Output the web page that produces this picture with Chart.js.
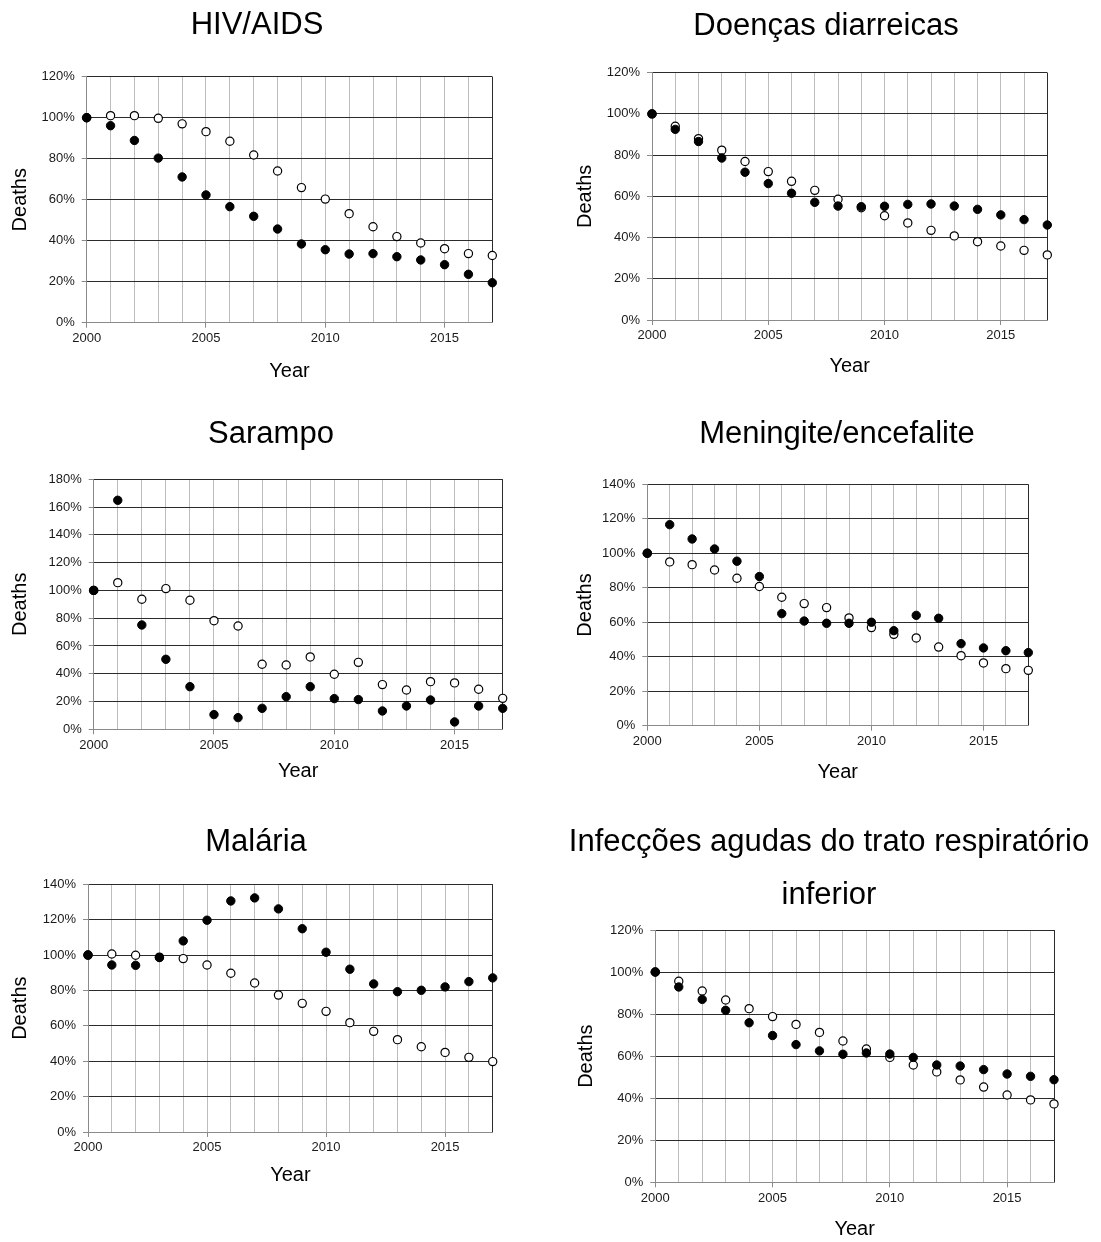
<!DOCTYPE html>
<html>
<head>
<meta charset="utf-8">
<script src="https://cdn.jsdelivr.net/npm/chart.js@4.4.1/dist/chart.umd.min.js"></script>
<style>
  html, body { margin: 0; padding: 0; background: #fff; }
  #wrap { position: relative; width: 1101px; height: 1242px; overflow: hidden; }
  #wrap canvas { position: absolute; }
</style>
</head>
<body>
<div id="wrap">
  <canvas id="hiv"></canvas>
  <canvas id="diar"></canvas>
  <canvas id="sar"></canvas>
  <canvas id="men"></canvas>
  <canvas id="mal"></canvas>
  <canvas id="resp"></canvas>
</div>
<script>
// ---- data ----
const years = [2000, 2001, 2002, 2003, 2004, 2005, 2006, 2007, 2008,
               2009, 2010, 2011, 2012, 2013, 2014, 2015, 2016, 2017];
const xLabelYears = [2000, 2005, 2010, 2015];
const yAxisStep = 20;

const titleHiv  = ['HIV/AIDS'];
const titleDiar = ['Doenças diarreicas'];
const titleSar  = ['Sarampo'];
const titleMen  = ['Meningite/encefalite'];
const titleMal  = ['Malária'];
const titleResp = ['Infecções agudas do trato respiratório', 'inferior'];

const xAxisTitle = 'Year';
const yAxisTitle = 'Deaths';

// y-axis upper limits (percent)
const yMaxHiv = 120, yMaxDiar = 120, yMaxSar = 180, yMaxMen = 140, yMaxMal = 140, yMaxResp = 120;

// filled markers
const hivSolid  = [100, 96.1, 88.9, 80.3, 71.1, 62.3, 56.6, 51.9, 45.7, 38.4, 35.6, 33.5, 33.7, 32.2, 30.6, 28.3, 23.6, 19.5];
const diarSolid = [100, 92.5, 86.6, 78.6, 71.7, 66.2, 61.5, 57.1, 55.3, 55.0, 55.2, 56.1, 56.3, 55.3, 53.7, 51.0, 48.7, 46.1];
const sarSolid  = [100, 164.9, 75.1, 50.4, 30.7, 10.6, 8.4, 15.1, 23.5, 30.7, 22.1, 21.4, 13.2, 16.8, 21.1, 5.3, 16.8, 15.1];
const menSolid  = [100, 116.6, 108.3, 102.5, 95.4, 86.5, 65.0, 60.7, 59.4, 59.4, 60.0, 55.1, 64.0, 62.3, 47.6, 45.1, 43.5, 42.4];
const malSolid  = [100, 94.4, 94.2, 98.6, 108.0, 119.7, 130.6, 132.3, 126.1, 114.9, 101.6, 92.0, 83.7, 79.3, 80.1, 82.0, 85.0, 87.1];
const respSolid = [100, 92.9, 87.0, 81.8, 75.9, 69.8, 65.5, 62.5, 60.9, 61.5, 61.0, 59.4, 55.8, 55.3, 53.6, 51.5, 50.4, 48.8];

// hollow markers
const hivHollow  = [100, 101.0, 101.0, 99.7, 97.0, 93.2, 88.5, 81.8, 74.0, 65.9, 60.3, 53.2, 46.8, 42.0, 38.9, 36.1, 33.7, 32.8];
const diarHollow = [100, 94.0, 88.0, 82.4, 76.9, 72.0, 67.3, 62.9, 58.6, 54.5, 50.6, 47.1, 43.5, 40.8, 38.0, 35.9, 33.8, 31.6];
const sarHollow  = [100, 105.6, 93.6, 101.3, 92.9, 78.2, 74.4, 46.8, 46.3, 52.1, 39.6, 48.2, 32.2, 28.3, 34.3, 33.4, 28.8, 22.3];
const menHollow  = [100, 95.0, 93.4, 90.3, 85.5, 80.7, 74.5, 70.8, 68.5, 62.5, 56.9, 53.0, 50.9, 45.6, 40.6, 36.4, 33.1, 32.1];
const malHollow  = [100, 100.6, 99.9, 98.8, 98.0, 94.4, 89.7, 84.2, 77.4, 72.7, 68.2, 61.8, 56.9, 52.2, 48.2, 45.0, 42.2, 39.8];
const respHollow = [100, 95.6, 91.0, 86.7, 82.6, 78.8, 75.1, 71.3, 67.2, 63.4, 59.4, 55.8, 52.5, 48.7, 45.3, 41.5, 39.2, 37.3];

// ---- styling / layout ----
const FONT = '"Liberation Sans", Arial, Helvetica, sans-serif';

// draws the panel heading centred above each plot
const panelTitlePlugin = {
  id: 'panelTitle',
  afterDraw(chart, args, opts) {
    const ctx = chart.ctx;
    ctx.save();
    ctx.font = opts.size + 'px ' + FONT;
    ctx.fillStyle = '#000';
    ctx.textAlign = 'center';
    ctx.textBaseline = 'middle';
    opts.lines.forEach((t, i) => ctx.fillText(t, opts.x, opts.y[i]));
    ctx.restore();
  }
};

const panels = [
  { id: 'hiv',  title: titleHiv,  solid: hivSolid,  hollow: hivHollow,  yMax: yMaxHiv,
    box: { x: 0,   y: 0,   w: 550, h: 400 }, plot: { l: 86.7,  r: 492.3,  t: 76.7,  b: 322.7 },
    titleX: 257, titleY: [25],  yTitleX: 20,  xTitleY: 371 },
  { id: 'diar', title: titleDiar, solid: diarSolid, hollow: diarHollow, yMax: yMaxDiar,
    box: { x: 550, y: 0,   w: 551, h: 400 }, plot: { l: 652,   r: 1047.3, t: 72.7,  b: 320 },
    titleX: 826, titleY: [26],  yTitleX: 585, xTitleY: 366 },
  { id: 'sar',  title: titleSar,  solid: sarSolid,  hollow: sarHollow,  yMax: yMaxSar,
    box: { x: 0,   y: 400, w: 550, h: 410 }, plot: { l: 93.7,  r: 502.7,  t: 479.3, b: 729.3 },
    titleX: 271, titleY: [434], yTitleX: 20,  xTitleY: 771 },
  { id: 'men',  title: titleMen,  solid: menSolid,  hollow: menHollow,  yMax: yMaxMen,
    box: { x: 550, y: 400, w: 551, h: 410 }, plot: { l: 647.3, r: 1028.3, t: 484.3, b: 725.7 },
    titleX: 837, titleY: [434], yTitleX: 585, xTitleY: 772 },
  { id: 'mal',  title: titleMal,  solid: malSolid,  hollow: malHollow,  yMax: yMaxMal,
    box: { x: 0,   y: 810, w: 550, h: 432 }, plot: { l: 88,    r: 492.7,  t: 884.3, b: 1132 },
    titleX: 256, titleY: [842], yTitleX: 20,  xTitleY: 1175 },
  { id: 'resp', title: titleResp, solid: respSolid, hollow: respHollow, yMax: yMaxResp,
    box: { x: 550, y: 810, w: 551, h: 432 }, plot: { l: 655.3, r: 1054,   t: 930,   b: 1182.3 },
    titleX: 829, titleY: [842, 895], yTitleX: 586, xTitleY: 1229 }
];

const AXIS_GREY = '#8a8a8a';
const H_GRID = '#2b2b2b';
const V_GRID = '#bdbdbd';
const AXIS_TITLE_SIZE = 20;
const TICK_SIZE = 13;

function makePanel(p) {
  const cv = document.getElementById(p.id);
  cv.width = p.box.w;
  cv.height = p.box.h;
  cv.style.left = p.box.x + 'px';
  cv.style.top = p.box.y + 'px';

  const yAxisWidth = p.plot.l - p.box.x;
  const padRight = p.box.x + p.box.w - p.plot.r;
  const padTop = p.plot.t - p.box.y;
  const xAxisHeight = p.box.y + p.box.h - p.plot.b;
  const halfLine = AXIS_TITLE_SIZE * 1.2 / 2;
  const yTitlePad = p.yTitleX - p.box.x - halfLine;
  const xTitlePad = (p.box.y + p.box.h) - halfLine - p.xTitleY;

  const pts = arr => years.map((yr, i) => ({ x: yr, y: arr[i] }));

  new Chart(cv, {
    type: 'scatter',
    data: {
      datasets: [
        { data: pts(p.solid), pointRadius: 4.2, pointBorderWidth: 1,
          pointBackgroundColor: '#000', pointBorderColor: '#000', clip: false },
        { data: pts(p.hollow), pointRadius: 4.1, pointBorderWidth: 1.2,
          pointBackgroundColor: '#fff', pointBorderColor: '#000', clip: false }
      ]
    },
    options: {
      responsive: false,
      animation: false,
      events: [],
      layout: { padding: { left: 0, top: padTop, right: padRight, bottom: 0 } },
      plugins: {
        legend: { display: false },
        tooltip: { enabled: false },
        panelTitle: { lines: p.title, size: 31, x: p.titleX - p.box.x,
                      y: p.titleY.map(v => v - p.box.y) }
      },
      scales: {
        x: {
          type: 'linear', min: years[0], max: years[years.length - 1],
          afterFit: s => { s.height = xAxisHeight; },
          ticks: {
            stepSize: 1, autoSkip: false, maxRotation: 0, padding: 3,
            color: '#1a1a1a', font: { family: FONT, size: TICK_SIZE },
            callback: v => xLabelYears.includes(v) ? String(v) : ''
          },
          grid: {
            lineWidth: 1, drawTicks: true, tickLength: 5,
            color: c => c.tick.value === years[0] ? AXIS_GREY
                      : (c.tick.value === years[years.length - 1] ? H_GRID : V_GRID),
            tickColor: c => xLabelYears.includes(c.tick.value) ? AXIS_GREY : 'rgba(0,0,0,0)'
          },
          border: { display: true, color: AXIS_GREY, width: 1 },
          title: { display: true, text: xAxisTitle, color: '#000',
                   font: { family: FONT, size: AXIS_TITLE_SIZE },
                   padding: { top: 0, bottom: xTitlePad } }
        },
        y: {
          min: 0, max: p.yMax,
          afterFit: s => { s.width = yAxisWidth; },
          ticks: {
            stepSize: yAxisStep, padding: 7,
            color: '#1a1a1a', font: { family: FONT, size: TICK_SIZE },
            callback: v => v + '%'
          },
          grid: {
            lineWidth: 1, drawTicks: true, tickLength: 5,
            color: c => c.tick.value === 0 ? AXIS_GREY : H_GRID,
            tickColor: AXIS_GREY
          },
          border: { display: true, color: AXIS_GREY, width: 1 },
          title: { display: true, text: yAxisTitle, color: '#000',
                   font: { family: FONT, size: AXIS_TITLE_SIZE },
                   padding: { top: yTitlePad, bottom: 0 } }
        }
      }
    },
    plugins: [panelTitlePlugin]
  });
}

panels.forEach(makePanel);
</script>
</body>
</html>
